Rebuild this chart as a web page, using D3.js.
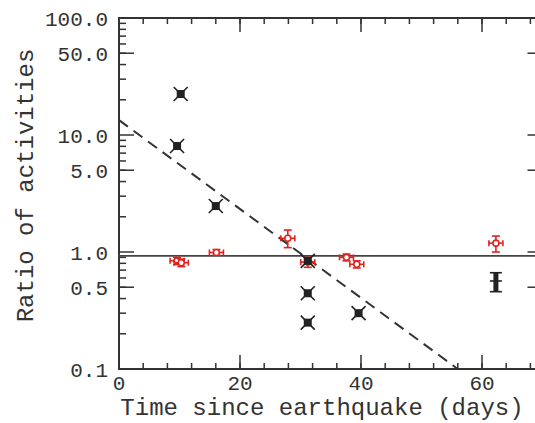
<!DOCTYPE html>
<html>
<head>
<meta charset="utf-8">
<script src="https://cdn.jsdelivr.net/npm/d3@7"></script>
<style>
  body { margin: 0; background: #fff; }
  svg { display: block; }
  text { font-family: "Liberation Mono", "DejaVu Sans Mono", monospace; fill: #333; }
</style>
</head>
<body>
<div id="chart"></div>
<script>
// black points (X markers)
const blackTime = [10.2, 9.6, 16.0, 31.2, 31.2, 31.2, 39.6, 62.3];
const blackRatio = [22.4, 8.05, 2.47, 0.84, 0.444, 0.249, 0.30, 0.565];
const blackLow = [22.4, 8.05, 2.47, 0.84, 0.444, 0.249, 0.30, 0.458];
const blackHigh = [22.4, 8.05, 2.47, 0.84, 0.444, 0.249, 0.30, 0.665];

// red points (open circles with error bars)
const redTime = [9.6, 10.3, 16.1, 27.9, 31.2, 37.6, 39.3, 62.3];
const redRatio = [0.84, 0.81, 0.99, 1.31, 0.82, 0.90, 0.785, 1.19];
const redLow = [0.78, 0.75, 0.94, 1.09, 0.74, 0.84, 0.73, 1.00];
const redHigh = [0.90, 0.87, 1.05, 1.54, 0.90, 0.96, 0.84, 1.37];

// reference lines
const levelRatio = 0.925;
const fitTime = [0, 56];
const fitRatio = [13.4, 0.1];

const yTicks = [0.1, 0.5, 1, 5, 10, 50, 100];
const yTickLabels = ['0.1', '0.5', '1.0', '5.0', '10.0', '50.0', '100.0'];
const xTicks = [0, 20, 40, 60];

const width = 535, height = 423;
const margin = { top: 18, left: 119, bottom: 54 };

const svg = d3.select('#chart').append('svg')
    .attr('width', width)
    .attr('height', height);

const x = d3.scaleLinear().domain([0, 70]).range([margin.left, margin.left + 6.05 * 70]);
const y = d3.scaleLog().domain([0.1, 100]).range([height - margin.bottom, margin.top]);

const axisColor = '#333';

// minor log ticks
const minorY = [];
[0.1, 1, 10].forEach(d => { for (let k = 2; k <= 9; k++) minorY.push(d * k); });
const minorX = d3.range(0, 72, 4);

// frame
svg.append('rect')
    .attr('x', x(0)).attr('y', y(100))
    .attr('width', x(70) - x(0)).attr('height', y(0.1) - y(100))
    .attr('fill', 'none').attr('stroke', axisColor).attr('stroke-width', 2);

// left and right ticks
const left = svg.append('g');
left.selectAll('.minor').data(minorY).enter().append('line')
    .attr('x1', x(0)).attr('x2', x(0) + 7)
    .attr('y1', d => y(d)).attr('y2', d => y(d))
    .attr('stroke', axisColor).attr('stroke-width', 1.5);
left.selectAll('.major').data(yTicks).enter().append('line')
    .attr('x1', x(0)).attr('x2', x(0) + 15)
    .attr('y1', d => y(d)).attr('y2', d => y(d))
    .attr('stroke', axisColor).attr('stroke-width', 1.5);
left.selectAll('.rminor').data(minorY).enter().append('line')
    .attr('x1', x(70)).attr('x2', x(70) - 7)
    .attr('y1', d => y(d)).attr('y2', d => y(d))
    .attr('stroke', axisColor).attr('stroke-width', 1.5);
left.selectAll('.rmajor').data(yTicks).enter().append('line')
    .attr('x1', x(70)).attr('x2', x(70) - 15)
    .attr('y1', d => y(d)).attr('y2', d => y(d))
    .attr('stroke', axisColor).attr('stroke-width', 1.5);
left.selectAll('text').data(yTicks).enter().append('text')
    .attr('x', x(0) - 11)
    .attr('y', d => y(d))
    .attr('dy', '0.36em')
    .attr('text-anchor', 'end')
    .style('font-size', '21px')
    .text((d, i) => yTickLabels[i]);

// top and bottom ticks
const bottom = svg.append('g');
[y(0.1), y(100)].forEach((base, side) => {
    const dir = side === 0 ? -1 : 1;
    bottom.selectAll('.mx' + side).data(minorX).enter().append('line')
        .attr('x1', d => x(d)).attr('x2', d => x(d))
        .attr('y1', base).attr('y2', base + dir * 6)
        .attr('stroke', axisColor).attr('stroke-width', 1.5);
    bottom.selectAll('.Mx' + side).data(xTicks).enter().append('line')
        .attr('x1', d => x(d)).attr('x2', d => x(d))
        .attr('y1', base).attr('y2', base + dir * 14)
        .attr('stroke', axisColor).attr('stroke-width', 1.5);
});
bottom.selectAll('text').data(xTicks).enter().append('text')
    .attr('x', d => x(d))
    .attr('y', y(0.1) + 21)
    .attr('text-anchor', 'middle')
    .style('font-size', '21px')
    .text(d => d);

// axis titles
svg.append('text')
    .attr('x', 322).attr('y', 415)
    .attr('text-anchor', 'middle')
    .style('font-size', '24px')
    .text('Time since earthquake (days)');
svg.append('text')
    .attr('transform', `translate(33,${(y(0.1) + y(100)) / 2 - 8}) rotate(-90)`)
    .attr('text-anchor', 'middle')
    .style('font-size', '24px')
    .text('Ratio of activities');

// horizontal level line
svg.append('line')
    .attr('x1', x(0)).attr('x2', x(70))
    .attr('y1', y(levelRatio)).attr('y2', y(levelRatio))
    .attr('stroke', '#444').attr('stroke-width', 1.8);

// dashed fit line
svg.append('line')
    .attr('x1', x(fitTime[0])).attr('y1', y(fitRatio[0]))
    .attr('x2', x(fitTime[1])).attr('y2', y(fitRatio[1]))
    .attr('stroke', '#333').attr('stroke-width', 2)
    .attr('stroke-dasharray', '11,7');

// red points
const red = '#e0231c';
const redG = svg.append('g');
redTime.forEach((t, i) => {
    const cx = x(t), cy = y(redRatio[i]);
    const g = redG.append('g').attr('stroke', red).attr('stroke-width', 1.6).attr('fill', 'none');
    g.append('line').attr('x1', cx).attr('x2', cx).attr('y1', y(redLow[i])).attr('y2', y(redHigh[i]));
    g.append('line').attr('x1', cx - 4).attr('x2', cx + 4).attr('y1', y(redLow[i])).attr('y2', y(redLow[i]));
    g.append('line').attr('x1', cx - 4).attr('x2', cx + 4).attr('y1', y(redHigh[i])).attr('y2', y(redHigh[i]));
    g.append('line').attr('x1', cx - 7).attr('x2', cx + 7).attr('y1', cy).attr('y2', cy);
    g.append('line').attr('x1', cx - 7).attr('x2', cx - 7).attr('y1', cy - 3).attr('y2', cy + 3);
    g.append('line').attr('x1', cx + 7).attr('x2', cx + 7).attr('y1', cy - 3).attr('y2', cy + 3);
    g.append('circle').attr('cx', cx).attr('cy', cy).attr('r', 3).attr('fill', '#fff');
});

// black points
const blackG = svg.append('g');
blackTime.forEach((t, i) => {
    const cx = x(t), cy = y(blackRatio[i]);
    const g = blackG.append('g').attr('stroke', '#222').attr('stroke-width', 1.6);
    const lo = y(blackLow[i]), hi = y(blackHigh[i]);
    if (lo - hi > 4) {
        g.append('line').attr('x1', cx).attr('x2', cx).attr('y1', lo).attr('y2', hi).attr('stroke-width', 5);
        g.append('line').attr('x1', cx - 6).attr('x2', cx + 6).attr('y1', lo).attr('y2', lo);
        g.append('line').attr('x1', cx - 6).attr('x2', cx + 6).attr('y1', hi).attr('y2', hi);
        g.append('line').attr('x1', cx - 6).attr('x2', cx + 6).attr('y1', cy).attr('y2', cy);
    } else {
        g.append('line').attr('x1', cx - 7).attr('x2', cx + 7).attr('y1', cy - 7).attr('y2', cy + 7);
        g.append('line').attr('x1', cx - 7).attr('x2', cx + 7).attr('y1', cy + 7).attr('y2', cy - 7);
        g.append('rect').attr('x', cx - 4).attr('y', cy - 4).attr('width', 8).attr('height', 8)
            .attr('fill', '#222').attr('stroke', 'none');
    }
});
</script>
</body>
</html>
